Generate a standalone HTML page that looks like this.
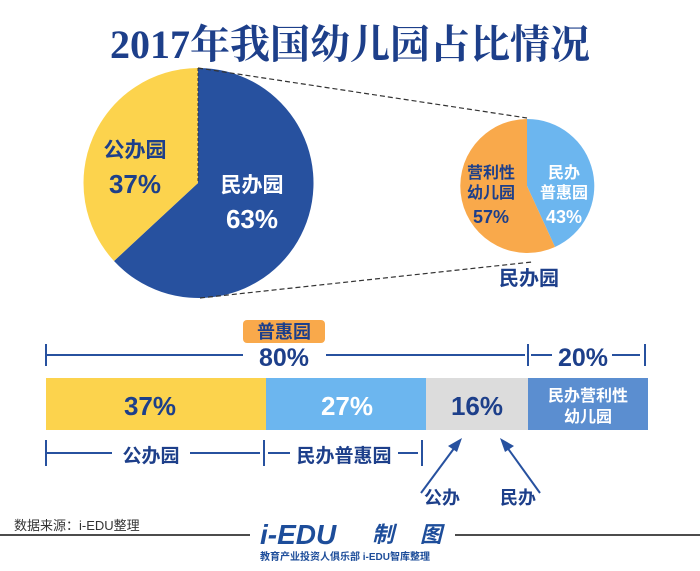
<!DOCTYPE html>
<html><head><meta charset="utf-8"><style>
body{margin:0;background:#fff;}
svg text{font-family:"Liberation Sans","Noto Sans CJK SC",sans-serif;font-weight:bold;}
</style></head><body>
<svg width="700" height="566" viewBox="0 0 700 566" xmlns="http://www.w3.org/2000/svg">
<text x="350" y="58" text-anchor="middle" font-size="40" fill="#1d3f8a" style="font-family:'Liberation Serif','Noto Serif CJK SC',serif;font-weight:bold">2017年我国幼儿园占比情况</text>
<!-- big pie -->
<path d="M198,183 L198,68 A115,115 0 1,1 114,261 Z" fill="#27519f"/>
<path d="M198,183 L114,261 A115,115 0 0,1 198,68 Z" fill="#fcd34d"/>
<line x1="198" y1="68" x2="198" y2="183" stroke="#333" stroke-width="1" stroke-dasharray="3,2"/>
<line x1="198" y1="68" x2="527" y2="118" stroke="#333" stroke-width="1.2" stroke-dasharray="5,3"/>
<line x1="200" y1="298" x2="532" y2="262" stroke="#333" stroke-width="1.2" stroke-dasharray="5,3"/>
<text x="135" y="157" font-size="21" fill="#1d3f8a" text-anchor="middle">公办园</text>
<text x="135" y="193" font-size="26" fill="#1d3f8a" text-anchor="middle">37%</text>
<text x="252" y="192" font-size="21" fill="#fff" text-anchor="middle">民办园</text>
<text x="252" y="228" font-size="26" fill="#fff" text-anchor="middle">63%</text>
<!-- small pie -->
<path d="M527,186 L527,119 A67,67 0 0,1 555,247 Z" fill="#6cb6ef"/>
<path d="M527,186 L555,247 A67,67 0 1,1 527,119 Z" fill="#f9a94b"/>
<text x="491" y="178" font-size="16" fill="#1d3f8a" text-anchor="middle">营利性</text>
<text x="491" y="198" font-size="16" fill="#1d3f8a" text-anchor="middle">幼儿园</text>
<text x="491" y="223" font-size="18" fill="#1d3f8a" text-anchor="middle">57%</text>
<text x="564" y="178" font-size="16" fill="#fff" text-anchor="middle">民办</text>
<text x="564" y="198" font-size="16" fill="#fff" text-anchor="middle">普惠园</text>
<text x="564" y="223" font-size="18" fill="#fff" text-anchor="middle">43%</text>
<text x="529" y="285" font-size="20" fill="#1d3f8a" text-anchor="middle">民办园</text>
<!-- top brackets -->
<rect x="243" y="320" width="82" height="23" rx="4" fill="#f9a94b"/>
<text x="284" y="338" font-size="18" fill="#1d3f8a" text-anchor="middle">普惠园</text>
<g stroke="#27519f" stroke-width="2">
<line x1="46" y1="344" x2="46" y2="366"/><line x1="46" y1="355" x2="243" y2="355"/>
<line x1="326" y1="355" x2="525" y2="355"/><line x1="528" y1="344" x2="528" y2="366"/>
<line x1="531" y1="355" x2="552" y2="355"/><line x1="612" y1="355" x2="640" y2="355"/>
<line x1="645" y1="344" x2="645" y2="366"/>
</g>
<text x="284" y="366" font-size="25" fill="#1d3f8a" text-anchor="middle">80%</text>
<text x="583" y="366" font-size="25" fill="#1d3f8a" text-anchor="middle">20%</text>
<!-- bar -->
<rect x="46" y="378" width="220" height="52" fill="#fcd34d"/>
<rect x="266" y="378" width="160" height="52" fill="#6cb6ef"/>
<rect x="426" y="378" width="102" height="52" fill="#dcdcdc"/>
<rect x="528" y="378" width="120" height="52" fill="#5b8ed0"/>
<text x="150" y="415" font-size="26" fill="#1d3f8a" text-anchor="middle">37%</text>
<text x="347" y="415" font-size="26" fill="#fff" text-anchor="middle">27%</text>
<text x="477" y="415" font-size="26" fill="#1d3f8a" text-anchor="middle">16%</text>
<text x="588" y="401" font-size="16" fill="#fff" text-anchor="middle">民办营利性</text>
<text x="588" y="422" font-size="16" fill="#fff" text-anchor="middle">幼儿园</text>
<!-- bottom brackets -->
<g stroke="#27519f" stroke-width="2">
<line x1="46" y1="440" x2="46" y2="466"/><line x1="46" y1="453" x2="112" y2="453"/>
<line x1="190" y1="453" x2="260" y2="453"/><line x1="264" y1="440" x2="264" y2="466"/>
<line x1="268" y1="453" x2="290" y2="453"/><line x1="398" y1="453" x2="418" y2="453"/>
<line x1="422" y1="440" x2="422" y2="466"/>
<line x1="421" y1="493" x2="458" y2="443"/><line x1="540" y1="493" x2="504" y2="443"/>
</g>
<polygon points="462,438 448,446 457,452" fill="#27519f"/>
<polygon points="500,438 514,446 505,452" fill="#27519f"/>
<text x="151" y="462" font-size="19" fill="#1d3f8a" text-anchor="middle">公办园</text>
<text x="344" y="462" font-size="19" fill="#1d3f8a" text-anchor="middle">民办普惠园</text>
<text x="442" y="504" font-size="18" fill="#1d3f8a" text-anchor="middle">公办</text>
<text x="518" y="504" font-size="18" fill="#1d3f8a" text-anchor="middle">民办</text>
<text x="14" y="530" font-size="13" fill="#333" style="font-weight:normal">数据来源：i-EDU整理</text>
<!-- footer -->
<line x1="0" y1="535" x2="250" y2="535" stroke="#111" stroke-width="1.5"/>
<line x1="455" y1="535" x2="700" y2="535" stroke="#111" stroke-width="1.5"/>
<text x="260" y="544" font-size="28" fill="#1d4d9a" font-style="italic">i-EDU</text>
<text x="372" y="542" font-size="22" fill="#1d4d9a" font-style="italic">制</text>
<text x="420" y="542" font-size="22" fill="#1d4d9a" font-style="italic">图</text>
<text x="260" y="560" font-size="10" fill="#1d4d9a">教育产业投资人俱乐部  i-EDU智库整理</text>
</svg>
</body></html>
